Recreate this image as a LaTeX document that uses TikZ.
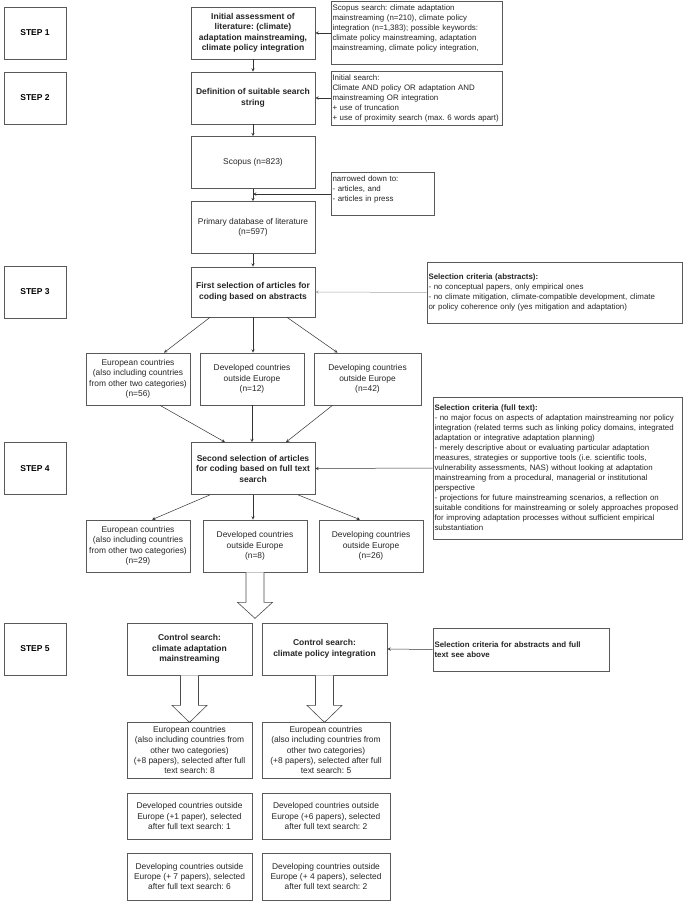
\documentclass[tikz,border=0pt]{standalone}
\usepackage{fontspec}
\setmainfont{Liberation Sans}
\frenchspacing
\usetikzlibrary{calc}
\tikzset{
  stepbox/.style={draw=black!65,line width=0.7pt,minimum width=62pt,minimum height=52pt,font=\bfseries\fontsize{8.5}{10.5}\selectfont},
  mainbox/.style={draw=black!65,line width=0.7pt,minimum width=124pt,minimum height=52pt,align=center,inner xsep=1pt,text=black!85,font=\fontsize{8.4}{10.4}\selectfont},
  boldbox/.style={mainbox,font=\bfseries\fontsize{8.5}{10.5}\selectfont},
  notebox/.style={draw=black!65,line width=0.7pt,align=left,inner xsep=1.5pt,text=black!85,font=\fontsize{7.9}{10}\selectfont},
  link/.style={-stealth,black!80,line width=0.5pt},
  fatarrow/.style={draw=black!70,fill=white,line width=0.6pt,line join=miter}
}
\begin{document}
\begin{tikzpicture}[x=1pt,y=-1pt]
    \useasboundingbox[fill=white] (0,0) rectangle (685,902);
    \node[stepbox] (s1) at (35,33) {STEP 1};
    \node[stepbox] (s2) at (35,98) {STEP 2};
    \node[stepbox] (s3) at (35,292) {STEP 3};
    \node[stepbox] (s4) at (35,468.5) {STEP 4};
    \node[stepbox] (s5) at (35,649) {STEP 5};

    \node[boldbox] (a1) at (253,33) {Initial assessment of\\literature: (climate)\\adaptation mainstreaming,\\climate policy integration};
    \node[boldbox] (a2) at (253,98) {Definition of suitable search\\string};
    \node[mainbox] (a3) at (253,162.5) {Scopus (n=823)};
    \node[mainbox] (a4) at (253,227.5) {Primary database of literature\\(n=597)};
    \node[boldbox,minimum height=50pt] (a5) at (253,292) {First selection of articles for\\coding based on abstracts};
    \node[boldbox] (a6) at (253,468.5) {Second selection of articles\\for coding based on full text\\search};

    \node[notebox,text width=168pt,minimum height=60pt] (r1) at (416.5,33) {Scopus search: climate adaptation\\mainstreaming (n=210), climate policy\\integration (n=1,383); possible keywords:\\climate policy mainstreaming, adaptation\\mainstreaming, climate policy integration,\\ \mbox{}};
    \node[notebox,text width=168pt,minimum height=52pt] (r2) at (416.5,98) {Initial search:\\Climate AND policy OR adaptation AND\\mainstreaming OR integration\\+ use of truncation\\+ use of proximity search (max. 6 words apart)};
    \node[notebox,text width=100pt,minimum height=42pt] (r3) at (382.5,194) {narrowed down to:\\- articles, and\\- articles in press\\ \mbox{}};
    \node[notebox,text width=252pt,minimum height=61pt] (r4) at (554.5,292.5) {\textbf{Selection criteria (abstracts):}\\- no conceptual papers, only empirical ones\\- no climate mitigation, climate-compatible development, climate\\or policy coherence only (yes mitigation and adaptation)};
    \node[notebox,text width=246pt,minimum height=142pt] (r5) at (557.5,468) {\textbf{Selection criteria (full text):}\\- no major focus on aspects of adaptation mainstreaming nor policy\\integration (related terms such as linking policy domains, integrated\\adaptation or integrative adaptation planning)\\- merely descriptive about or evaluating particular adaptation\\measures, strategies or supportive tools (i.e. scientific tools,\\vulnerability assessments, NAS) without looking at adaptation\\mainstreaming from a procedural, managerial or institutional\\perspective\\- projections for future mainstreaming scenarios, a reflection on\\suitable conditions for mainstreaming or solely approaches proposed\\for improving adaptation processes without sufficient empirical\\substantiation};
    \node[notebox,text width=173pt,minimum height=43pt] (r6) at (521,649.5) {\textbf{Selection criteria for abstracts and full}\\\textbf{text see above}};

    \node[mainbox,minimum width=104pt] (b1) at (138,379) {European countries\\(also including countries\\from other two categories)\\(n=56)};
    \node[mainbox,minimum width=104pt] (b2) at (252,379) {Developed countries\\outside Europe\\(n=12)};
    \node[mainbox,minimum width=107pt] (b3) at (367.5,379) {Developing countries\\outside Europe\\(n=42)};

    \node[mainbox,minimum width=104pt] (c1) at (138,546) {European countries\\(also including countries\\from other two categories)\\(n=29)};
    \node[mainbox,minimum width=104pt] (c2) at (255,546) {Developed countries\\outside Europe\\(n=8)};
    \node[mainbox,minimum width=104pt] (c3) at (371,546) {Developing countries\\outside Europe\\(n=26)};

    \node[boldbox,minimum width=125pt] (d1) at (189.5,649) {Control search:\\climate adaptation\\mainstreaming};
    \node[boldbox,minimum width=125pt] (d2) at (324.5,649) {Control search:\\climate policy integration};

    \node[mainbox,minimum width=125pt,minimum height=56pt] (e1) at (189.5,750) {European countries\\(also including countries from\\other two categories)\\(+8 papers), selected after full\\text search: 8};
    \node[mainbox,minimum width=128pt,minimum height=56pt] (e2) at (326,750) {European countries\\(also including countries from\\other two categories)\\(+8 papers), selected after full\\text search: 5};
    \node[mainbox,minimum width=125pt,minimum height=46pt] (f1) at (189.5,816) {Developed countries outside\\Europe (+1 paper), selected\\after full text search: 1};
    \node[mainbox,minimum width=128pt,minimum height=46pt] (f2) at (326,816) {Developed countries outside\\Europe (+6 papers), selected\\after full text search: 2};
    \node[mainbox,minimum width=125pt,minimum height=47pt] (g1) at (189.5,876.5) {Developing countries outside\\Europe (+ 7 papers), selected\\after full text search: 6};
    \node[mainbox,minimum width=128pt,minimum height=47pt] (g2) at (326,876.5) {Developing countries outside\\Europe (+ 4 papers), selected\\after full text search: 2};

    \coordinate (m34) at (a3.south |- r3.west);
    \draw[link] (r1.west) -- (a1.east);
    \draw[link] (a1.south) -- (a2.north);
    \draw[link] (r2.west) -- (a2.east);
    \draw[link] (a2.south) -- (a3.north);
    \draw[link] (a3.south) -- (a4.north);
    \draw[link] (r3.west) -- (m34);
    \draw[link] (a4.south) -- (a5.north);
    \draw[link,black!35] (r4.west) -- (a5.east);
    \draw[link] ([xshift=-43pt]a5.south) -- ([xshift=26pt]b1.north);
    \draw[link] (a5.south) -- (a5.south |- b2.north);
    \draw[link] ([xshift=34pt]a5.south) -- ([xshift=-30pt]b3.north);
    \draw[link] ([xshift=22pt]b1.south) -- ([xshift=-28pt]a6.north);
    \draw[link] (b2.south) -- (b2.south |- a6.north);
    \draw[link] ([xshift=-35pt]b3.south) -- ([xshift=33pt]a6.north);
    \draw[link] (r5.west) -- (a6.east);
    \draw[link] ([xshift=-43pt]a6.south) -- ([xshift=14pt]c1.north);
    \draw[link] (a6.south) -- (a6.south |- c2.north);
    \draw[link] ([xshift=45pt]a6.south) -- ([xshift=-11pt]c3.north);
    \draw[link] (r6.west) -- (d2.east);

    \draw[fatarrow] ([xshift=-9pt]c2.south) -- ++(0,30) -- ++(-8.5,0) -- ++(17.5,16) -- ++(17.5,-16) -- ++(-8.5,0) -- ++(0,-30);
    \draw[fatarrow] ([xshift=-9pt]d1.south) -- ++(0,30) -- ++(-8.5,0) -- ++(17.5,17) -- ++(17.5,-17) -- ++(-8.5,0) -- ++(0,-30);
    \draw[fatarrow] ([xshift=-9pt]d2.south) -- ++(0,30) -- ++(-8.5,0) -- ++(17.5,17) -- ++(17.5,-17) -- ++(-8.5,0) -- ++(0,-30);
\end{tikzpicture}
\end{document}
